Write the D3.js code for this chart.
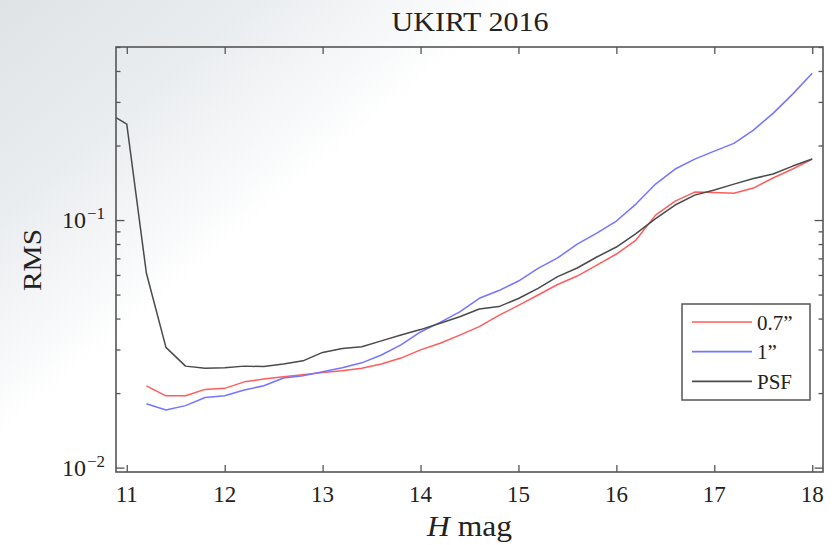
<!DOCTYPE html>
<html>
<head>
<meta charset="utf-8">
<script src="https://cdn.jsdelivr.net/npm/d3@7"></script>
<style>
  html, body { margin: 0; padding: 0; background: #fff; }
  svg { display: block; }
  text { font-family: "Liberation Serif", "DejaVu Serif", serif; fill: #222; }
</style>
</head>
<body>
<svg id="chart" width="838" height="545"></svg>
<script>
// Magnitude grid shared by the aperture series (step 0.2 mag)
const magAperture = [11.2, 11.4, 11.6, 11.8, 12.0, 12.2, 12.4, 12.6, 12.8, 13.0,
  13.2, 13.4, 13.6, 13.8, 14.0, 14.2, 14.4, 14.6, 14.8, 15.0,
  15.2, 15.4, 15.6, 15.8, 16.0, 16.2, 16.4, 16.6, 16.8, 17.0,
  17.2, 17.4, 17.6, 17.8, 18.0];
// PSF photometry extends to brighter magnitudes
const magPSF = [10.8, 11.0].concat(magAperture);

// RMS, 0.7" aperture
const rms07 = [0.0214, 0.0195, 0.0195, 0.0207, 0.0209, 0.0222, 0.0228, 0.0233, 0.0237, 0.0242,
  0.0246, 0.0252, 0.0262, 0.0277, 0.0299, 0.0318, 0.0343, 0.0371, 0.0412, 0.0452,
  0.0498, 0.0549, 0.0594, 0.0658, 0.0729, 0.0830, 0.1047, 0.1193, 0.1297, 0.1291,
  0.1282, 0.1346, 0.1478, 0.1607, 0.1763];
// RMS, 1" aperture
const rms1 = [0.0181, 0.0171, 0.0178, 0.0192, 0.0195, 0.0206, 0.0214, 0.0230, 0.0235, 0.0244,
  0.0253, 0.0265, 0.0285, 0.0313, 0.0353, 0.0386, 0.0426, 0.0483, 0.0519, 0.0567,
  0.0638, 0.0703, 0.0800, 0.0886, 0.0991, 0.1160, 0.1397, 0.1607, 0.1763, 0.1899,
  0.2040, 0.2309, 0.2697, 0.3226, 0.3920];
// RMS, PSF fitting
const rmsPSF = [0.272, 0.2441, 0.0611, 0.0306, 0.0257, 0.0252, 0.0253, 0.0257, 0.0256, 0.0262,
  0.0270, 0.0292, 0.0303, 0.0308, 0.0325, 0.0343, 0.0361, 0.0383, 0.0407, 0.0437,
  0.0447, 0.0482, 0.0530, 0.0591, 0.0640, 0.0709, 0.0778, 0.0882, 0.1014, 0.1150,
  0.1261, 0.1322, 0.1397, 0.1471, 0.1534, 0.1652, 0.1763];

const seriesNames = ["0.7\u201D", "1\u201D", "PSF"];
const seriesColors = ["#ff5c5c", "#7474ff", "#4a4a4a"];
const xTickValues = [11, 12, 13, 14, 15, 16, 17, 18];
const yMajorTicks = [0.01, 0.1];
const yMinorTicks = [0.02, 0.03, 0.04, 0.05, 0.06, 0.07, 0.08, 0.09, 0.2, 0.3, 0.4, 0.5];
const yTickExponents = ["\u22122", "\u22121"];

const svg = d3.select("#chart");
const W = 838, H = 545;
const m = { left: 116, top: 47, right: 823, bottom: 472 };

// soft slide-style background shading from the top-left corner
const defs = svg.append("defs");
const grad = defs.append("linearGradient").attr("id", "bg")
  .attr("gradientUnits", "userSpaceOnUse")
  .attr("x1", 0).attr("y1", 0).attr("x2", 215).attr("y2", 256);
grad.append("stop").attr("offset", 0).attr("stop-color", "#dfe3e6");
grad.append("stop").attr("offset", 0.5).attr("stop-color", "#eaedf0");
grad.append("stop").attr("offset", 0.85).attr("stop-color", "#f8f9fa");
grad.append("stop").attr("offset", 1).attr("stop-color", "#ffffff");
svg.append("rect").attr("width", W).attr("height", H).attr("fill", "url(#bg)");

defs.append("clipPath").attr("id", "plotclip").append("rect")
  .attr("x", m.left).attr("y", m.top)
  .attr("width", m.right - m.left).attr("height", m.bottom - m.top);

const x = d3.scaleLinear().domain([10.89, 18.11]).range([m.left, m.right]);
const y = d3.scaleLog().domain([0.0096, 0.5]).range([m.bottom, m.top]);

const axisColor = "#555";

// inward-facing ticks on all four sides
const axes = [
  { axis: d3.axisBottom(x), tr: `translate(0,${m.bottom})`, size: -7, values: xTickValues },
  { axis: d3.axisTop(x), tr: `translate(0,${m.top})`, size: -7, values: xTickValues },
  { axis: d3.axisLeft(y), tr: `translate(${m.left},0)`, size: -8.5, values: yMajorTicks },
  { axis: d3.axisLeft(y), tr: `translate(${m.left},0)`, size: -4.5, values: yMinorTicks },
  { axis: d3.axisRight(y), tr: `translate(${m.right},0)`, size: -8.5, values: yMajorTicks },
  { axis: d3.axisRight(y), tr: `translate(${m.right},0)`, size: -4.5, values: yMinorTicks }
];
axes.forEach(a => {
  const g = svg.append("g").attr("transform", a.tr)
    .call(a.axis.tickValues(a.values).tickSize(a.size).tickFormat(""));
  g.select(".domain").remove();
  g.selectAll(".tick line").attr("stroke", axisColor).attr("stroke-width", 1.3);
});

// x tick labels
svg.append("g").selectAll("text").data(xTickValues).join("text")
  .attr("x", d => x(d)).attr("y", 502)
  .attr("text-anchor", "middle")
  .attr("font-size", 23)
  .text(d => d);

// y tick labels as powers of ten
yMajorTicks.forEach((v, i) => {
  const t = svg.append("text")
    .attr("x", 105).attr("y", y(v) + 8)
    .attr("text-anchor", "end")
    .attr("font-size", 24);
  t.append("tspan").text("10");
  t.append("tspan").attr("dx", 1).attr("dy", -9).attr("font-size", 17).text(yTickExponents[i]);
});

// data lines
const line = d3.line().x(d => x(d[0])).y(d => y(d[1]));
const seriesData = [
  d3.zip(magAperture, rms07),
  d3.zip(magAperture, rms1),
  d3.zip(magPSF, rmsPSF)
];
const plot = svg.append("g").attr("clip-path", "url(#plotclip)");
seriesData.forEach((d, i) => {
  plot.append("path").datum(d)
    .attr("d", line)
    .attr("fill", "none")
    .attr("stroke", seriesColors[i])
    .attr("stroke-width", 1.5)
    .attr("stroke-linejoin", "round");
});

// frame
svg.append("rect")
  .attr("x", m.left).attr("y", m.top)
  .attr("width", m.right - m.left).attr("height", m.bottom - m.top)
  .attr("fill", "none").attr("stroke", axisColor).attr("stroke-width", 1.6);

// legend
const lg = svg.append("g");
lg.append("rect").attr("x", 682).attr("y", 304).attr("width", 128).attr("height", 96)
  .attr("fill", "#fff").attr("stroke", axisColor).attr("stroke-width", 1.5);
seriesNames.forEach((name, i) => {
  const yy = 322 + i * 29.7;
  lg.append("line").attr("x1", 692).attr("x2", 752).attr("y1", yy).attr("y2", yy)
    .attr("stroke", seriesColors[i]).attr("stroke-width", 1.7);
  lg.append("text").attr("x", 757).attr("y", yy + 7.5)
    .attr("font-size", 21).text(name);
});

// title and axis labels
svg.append("text").attr("x", 470).attr("y", 31)
  .attr("text-anchor", "middle").attr("font-size", 27)
  .attr("textLength", 157).attr("lengthAdjust", "spacingAndGlyphs")
  .text("UKIRT 2016");

const xl = svg.append("text").attr("x", 469.5).attr("y", 536)
  .attr("text-anchor", "middle").attr("font-size", 29)
  .attr("textLength", 85).attr("lengthAdjust", "spacingAndGlyphs");
xl.append("tspan").attr("font-style", "italic").text("H");
xl.append("tspan").text(" mag");

svg.append("text")
  .attr("transform", "translate(41,260) rotate(-90)")
  .attr("text-anchor", "middle").attr("font-size", 26)
  .attr("textLength", 62).attr("lengthAdjust", "spacingAndGlyphs")
  .text("RMS");
</script>
</body>
</html>
